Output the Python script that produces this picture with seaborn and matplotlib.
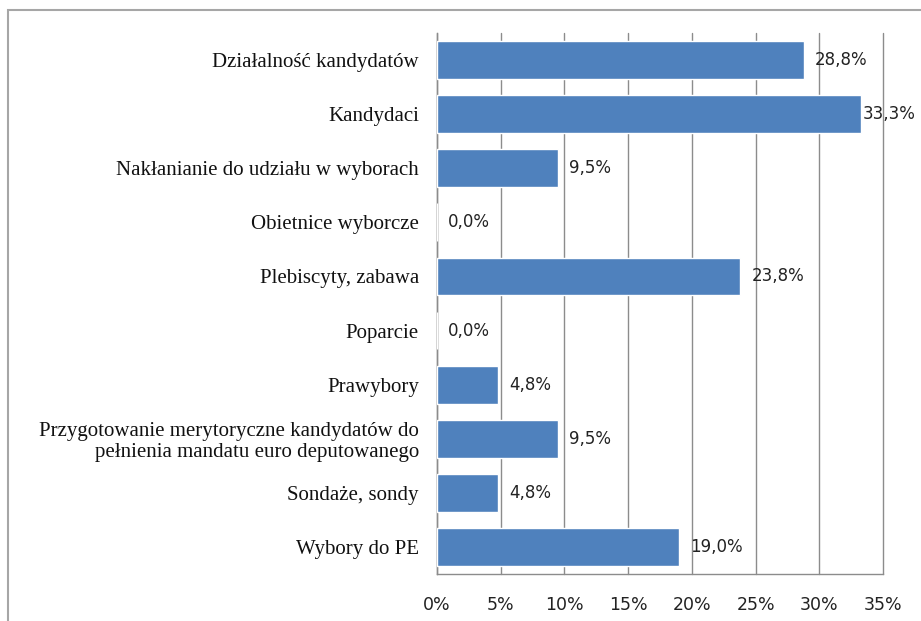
import numpy as np
import pandas as pd
import matplotlib
matplotlib.use('Agg')
import matplotlib.pyplot as plt
import matplotlib.patches as patches
from matplotlib.ticker import FixedLocator
import seaborn as sns

# dane z wykresu
categories = [
    'Działalność kandydatów',
    'Kandydaci',
    'Nakłanianie do udziału w wyborach',
    'Obietnice wyborcze',
    'Plebiscyty, zabawa',
    'Poparcie',
    'Prawybory',
    'Przygotowanie merytoryczne kandydatów do\npełnienia mandatu euro deputowanego',
    'Sondaże, sondy',
    'Wybory do PE',
]
values = [28.8, 33.3, 9.5, 0.0, 23.8, 0.0, 4.8, 9.5, 4.8, 19.0]
x_ticks = [0, 5, 10, 15, 20, 25, 30, 35]

df = pd.DataFrame({'kategoria': categories, 'procent': values})

sns.set_style("white")
serif = ['Liberation Serif', 'DejaVu Serif']
sans = ['DejaVu Sans']
bar_color = '#4F81BD'
grid_color = '#8c8c8c'

fig = plt.figure(figsize=(9.21, 6.21), dpi=100)
ax = fig.add_axes([437 / 921, 1 - 574 / 621, (883 - 437) / 921, (574 - 33) / 621])

sns.barplot(data=df, y='kategoria', x='procent', orient='h', color=bar_color,
            width=0.7, saturation=1, ax=ax, zorder=3)

ax.set_xlim(0, 35)
ax.set_ylim(len(categories) - 0.5, -0.5)
ax.set_xticks(x_ticks)
ax.set_xticklabels([f'{t}%' for t in x_ticks], fontfamily=sans, fontsize=12.5, color='#222222')
ax.set_xlabel('')
ax.set_ylabel('')

ax.set_yticks(range(len(categories)))
ax.set_yticklabels(categories, fontfamily=serif, fontsize=15, color='#111111',
                   linespacing=1.12)
ax.tick_params(axis='y', which='major', length=0, pad=13)
ax.yaxis.set_minor_locator(FixedLocator(np.arange(-0.5, len(categories), 1.0)))
ax.tick_params(axis='y', which='minor', length=6, color=grid_color, direction='out')
ax.tick_params(axis='x', which='major', length=6, color=grid_color, direction='out', pad=10)

ax.grid(axis='x', color=grid_color, linewidth=1, zorder=0)
ax.set_axisbelow(True)
for line in ax.get_xgridlines():
    line.set_clip_on(False)
for side in ['top', 'right']:
    ax.spines[side].set_visible(False)
for side in ['left', 'bottom']:
    ax.spines[side].set_color(grid_color)
    ax.spines[side].set_linewidth(1)

# etykiety wartości (przy najdłuższym słupku etykieta tuż przy końcu, jak w Excelu)
for i, v in enumerate(values):
    off = 1 if v == max(values) else 8
    ax.annotate(f'{v:.1f}%'.replace('.', ','), xy=(v, i), xytext=(off, 0),
                textcoords='offset points', va='center', ha='left',
                fontfamily=sans, fontsize=12, color='#222222', zorder=4)

# ramka wykresu
fig.patches.append(patches.Rectangle((8 / 921, -0.05), 1.0, 1 - 10 / 621 + 0.05,
                                     transform=fig.transFigure, fill=False,
                                     edgecolor='#a6a6a6', linewidth=1.5))

plt.savefig('out.png', dpi=100)
